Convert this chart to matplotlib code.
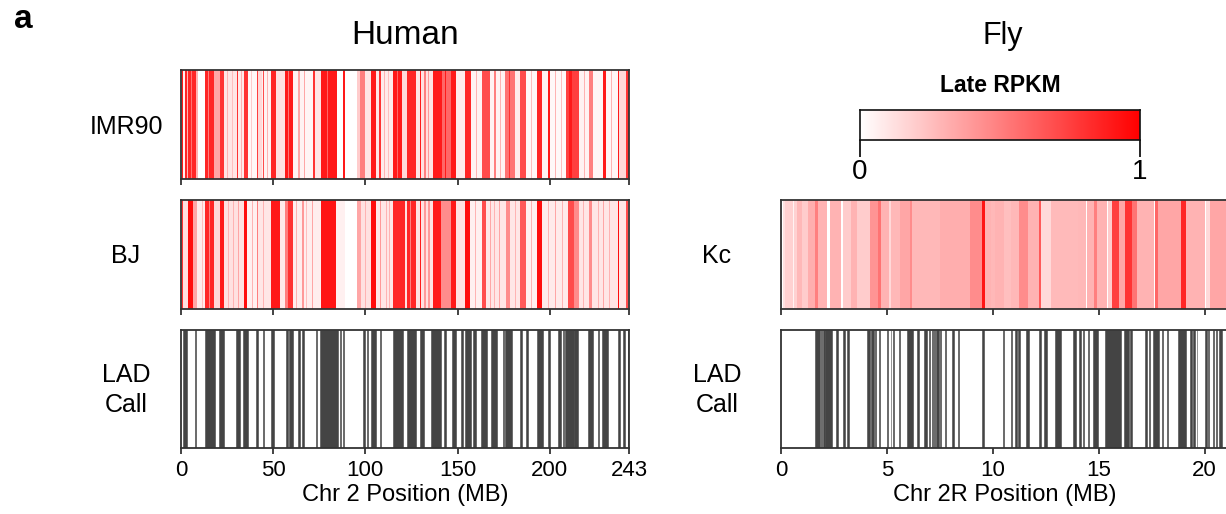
import matplotlib
matplotlib.use("Agg")
import matplotlib.pyplot as plt
from matplotlib.colors import LinearSegmentedColormap
import numpy as np

plt.rcParams['font.family'] = ['Liberation Sans', 'DejaVu Sans']

# ---------------- data ----------------
human_len = 243
human_ticks = [0, 50, 100, 150, 200, 243]
fly_len = 21.15
fly_ticks = [0, 5, 10, 15, 20]

imr90_background = 0.06
imr90_segments = [
    # light / white stretches with faint stripes
    (9.0, 13.0, 0.0), (23.5, 30.2, 0.1), (25.0, 25.6, 0.3), (27.5, 28.0, 0.25),
    (31.1, 34.1, 0.08), (32.5, 33.0, 0.3), (36.1, 41.0, 0.03), (38.0, 38.5, 0.2),
    (41.9, 44.0, 0.15), (45.2, 48.6, 0.05), (46.5, 47.0, 0.3), (51.8, 56.3, 0.12),
    (60.9, 63.5, 0.05), (64.5, 66.5, 0.05), (67.5, 71.7, 0.04), (72.6, 76.2, 0.1),
    (84.7, 87.9, 0.0), (89.2, 95.7, 0.0), (95.7, 97.0, 0.2), (99.7, 102.9, 0.1),
    (106.0, 107.5, 0.1), (108.5, 115.0, 0.08), (110.0, 110.6, 0.3), (112.5, 113.0, 0.25),
    (120.0, 122.6, 0.15), (127.6, 129.4, 0.1), (130.3, 136.7, 0.12), (134.0, 134.6, 0.4),
    (149.3, 153.8, 0.08), (157.4, 163.4, 0.05), (160.0, 160.5, 0.3), (167.4, 176.0, 0.05),
    (173.0, 173.5, 0.3), (180.9, 184.0, 0.08), (187.2, 193.2, 0.03), (190.0, 190.5, 0.25),
    (195.9, 199.0, 0.05), (200.2, 208.9, 0.03), (203.0, 203.5, 0.3), (206.0, 206.5, 0.25),
    (216.1, 221.5, 0.05), (218.5, 219.0, 0.3), (223.3, 228.7, 0.04), (230.6, 236.9, 0.04),
    (233.0, 233.6, 0.3), (237.8, 241.5, 0.15),
    # red stripes
    (0.4, 1.3, 0.9), (2.2, 3.1, 0.85), (3.1, 4.0, 0.3), (4.0, 7.9, 0.85), (5.5, 6.0, 0.55),
    (7.9, 9.0, 0.3), (13.0, 18.1, 0.85), (14.5, 15.0, 0.5), (18.1, 21.1, 0.35),
    (21.1, 23.5, 0.8), (30.2, 31.1, 0.8), (34.1, 36.1, 0.8), (41.0, 41.9, 0.75),
    (44.6, 45.2, 0.7), (48.6, 51.8, 0.85), (56.3, 60.9, 0.9), (58.0, 58.5, 0.55),
    (63.5, 64.5, 0.35), (66.5, 67.5, 0.35), (71.7, 72.6, 0.8), (76.2, 84.7, 0.9),
    (79.0, 79.6, 0.6), (87.9, 89.2, 0.9), (97.0, 99.7, 0.5), (102.9, 106.0, 0.9),
    (107.5, 108.5, 0.8), (115.0, 120.0, 0.9), (117.0, 117.6, 0.6), (122.6, 127.6, 0.85),
    (124.5, 125.0, 0.45), (129.4, 130.3, 0.9), (132.0, 133.0, 0.5), (136.7, 141.5, 0.9),
    (141.5, 146.5, 0.6), (143.0, 143.6, 0.9), (146.5, 149.3, 0.9), (153.8, 157.4, 0.85),
    (163.4, 167.4, 0.7), (170.0, 171.0, 0.5), (176.0, 180.9, 0.55), (178.0, 178.6, 0.8),
    (184.0, 187.2, 0.7), (193.2, 195.9, 0.85), (199.0, 200.2, 0.9), (208.9, 216.1, 0.75),
    (210.5, 212.0, 0.9), (221.5, 223.3, 0.5), (228.7, 230.6, 0.9), (236.9, 237.8, 0.9),
    (241.5, 242.8, 0.8),
]

bj_background = 0.12
bj_segments = [
    # pale texture
    (8.5, 13.0, 0.08), (9.5, 10.0, 0.3), (11.5, 12.0, 0.25), (18.0, 21.1, 0.15),
    (23.5, 34.1, 0.12), (25.5, 26.0, 0.3), (28.0, 28.5, 0.3), (31.0, 31.5, 0.35),
    (36.0, 41.0, 0.06), (38.5, 39.0, 0.3), (42.0, 48.8, 0.1), (44.5, 45.0, 0.3),
    (53.6, 56.3, 0.08), (60.9, 76.2, 0.07), (62.5, 63.0, 0.3), (68.0, 68.5, 0.25),
    (71.0, 71.6, 0.35), (73.5, 74.0, 0.3), (84.3, 88.8, 0.06), (97.5, 103.3, 0.12),
    (100.0, 100.5, 0.3), (106.0, 115.0, 0.1), (111.0, 111.5, 0.3), (113.0, 113.5, 0.3),
    (157.0, 163.4, 0.06), (159.5, 160.0, 0.3), (165.2, 184.0, 0.1), (167.5, 168.0, 0.35),
    (170.0, 170.5, 0.3), (172.5, 173.0, 0.35), (181.0, 181.5, 0.3), (187.2, 193.2, 0.06),
    (190.0, 190.5, 0.3), (196.0, 209.8, 0.08), (199.0, 199.6, 0.3), (203.0, 203.5, 0.35),
    (206.5, 207.0, 0.3), (216.0, 236.9, 0.1), (218.0, 218.5, 0.3), (226.0, 226.5, 0.3),
    (229.0, 229.5, 0.35), (232.0, 232.5, 0.3), (237.8, 243.0, 0.1), (239.5, 240.0, 0.3),
    # red stripes
    (0.4, 1.3, 0.8), (3.6, 6.7, 0.95), (6.7, 8.5, 0.35), (13.0, 18.0, 0.85), (15.0, 15.5, 0.5),
    (21.1, 23.5, 0.9), (34.1, 35.9, 0.95), (41.0, 41.9, 0.5), (48.8, 53.6, 0.9),
    (56.3, 60.9, 0.8), (56.3, 58.0, 0.5), (65.5, 66.5, 0.4), (76.2, 84.3, 0.92),
    (88.8, 95.7, 0.0), (95.7, 97.5, 0.35), (103.3, 106.0, 0.95), (107.8, 108.7, 0.4),
    (115.0, 121.3, 0.85), (122.6, 127.6, 0.85), (124.0, 124.5, 0.5), (129.4, 130.3, 0.9),
    (132.0, 133.0, 0.4), (134.0, 135.0, 0.4), (136.7, 141.2, 0.9), (141.2, 146.6, 0.45),
    (143.5, 144.0, 0.8), (146.6, 149.0, 0.9), (153.8, 156.9, 0.95), (163.4, 165.2, 0.7),
    (176.5, 178.5, 0.45), (184.0, 187.2, 0.65), (193.2, 195.9, 0.95), (209.8, 213.4, 0.7),
    (213.4, 216.0, 0.45), (221.5, 223.0, 0.45), (236.9, 237.8, 0.95), (241.5, 242.5, 0.7),
]

human_lad = [
    (1.3, 3.1), (7.6, 8.1), (13.0, 18.4), (20.6, 23.3), (29.8, 32.0), (33.6, 36.1),
    (40.6, 41.5), (44.6, 45.1), (48.8, 50.2), (56.9, 58.1), (58.7, 60.5), (63.6, 64.3),
    (65.5, 66.5), (73.3, 74.0), (75.3, 85.2), (86.0, 86.7), (87.6, 88.5), (98.8, 99.7),
    (100.8, 101.7), (102.9, 105.6), (107.8, 108.7), (115.0, 120.4), (122.6, 127.3),
    (129.4, 131.6), (135.4, 141.2), (142.4, 143.9), (147.1, 148.9), (152.0, 152.9),
    (153.8, 157.1), (158.3, 159.8), (162.5, 165.9), (167.9, 171.5), (174.6, 175.3),
    (176.0, 179.6), (184.0, 184.9), (187.2, 188.1), (193.2, 196.2), (199.3, 200.2),
    (204.4, 206.2), (207.1, 208.0), (208.5, 212.9), (213.4, 215.2), (220.6, 223.7),
    (226.0, 226.9), (228.2, 231.6), (236.9, 238.1), (240.0, 241.0), (242.3, 243.0),
]

kc_background = 0.28
kc_segments = [
    (0.0, 0.2, 0.12), (0.06, 0.09, 0.0), (0.2, 0.75, 0.18), (0.37, 0.4, 0.0), (0.57, 0.6, 0.05),
    (0.75, 1.0, 0.28), (1.0, 1.28, 0.2), (1.28, 1.6, 0.32), (1.6, 1.75, 0.5), (1.75, 2.15, 0.3),
    (2.15, 2.3, 0.0), (2.3, 2.84, 0.3), (2.84, 2.92, 0.0), (2.92, 4.2, 0.2), (3.3, 3.6, 0.3),
    (4.2, 4.56, 0.42), (4.6, 4.72, 0.55), (4.72, 5.1, 0.3), (5.1, 5.2, 0.15), (5.5, 5.53, 0.0),
    (5.6, 6.1, 0.35), (6.1, 6.2, 0.45), (6.4, 6.43, 0.05), (7.2, 7.23, 0.05), (7.5, 8.9, 0.32),
    (8.9, 9.5, 0.45), (9.5, 9.62, 0.92), (9.62, 9.9, 0.3), (9.9, 9.93, 0.0), (10.08, 10.55, 0.3),
    (10.55, 10.85, 0.25), (11.25, 11.64, 0.45), (11.64, 12.2, 0.3), (12.2, 12.28, 0.65),
    (12.28, 12.75, 0.15), (12.75, 14.0, 0.27), (14.4, 14.44, 0.0), (14.44, 14.77, 0.3),
    (14.77, 14.92, 0.5), (14.92, 15.4, 0.3), (15.4, 15.45, 0.0), (15.45, 15.63, 0.2),
    (15.63, 15.94, 0.75), (15.94, 16.25, 0.35), (16.25, 16.56, 0.8), (16.56, 16.8, 0.55),
    (16.8, 17.6, 0.3), (17.6, 17.64, 0.0), (17.67, 17.8, 0.6), (17.8, 18.9, 0.35),
    (18.9, 19.1, 0.85), (19.1, 20.0, 0.3), (20.0, 20.05, 0.0), (20.05, 20.25, 0.15),
    (20.25, 21.15, 0.35),
]

fly_lad = [
    (1.59, 1.83), (1.88, 1.94), (2.0, 2.06), (2.1, 2.42), (2.58, 2.69), (2.92, 3.03),
    (3.1, 3.23), (4.06, 4.2), (4.25, 4.4), (4.46, 4.5), (4.62, 4.66), (5.01, 5.05),
    (5.17, 5.21), (5.28, 5.32), (5.56, 5.6), (5.97, 6.25), (6.44, 6.53), (6.75, 6.9),
    (6.98, 7.02), (7.12, 7.16), (7.23, 7.27), (7.34, 7.45), (7.51, 7.55), (7.75, 7.79),
    (8.08, 8.16), (8.34, 8.38), (9.48, 9.6), (10.5, 10.54), (10.88, 10.92), (11.05, 11.14),
    (11.2, 11.3), (11.56, 11.72), (12.19, 12.27), (12.42, 12.58), (12.94, 13.2),
    (13.78, 13.91), (14.06, 14.14), (14.25, 14.29), (14.48, 14.52), (14.72, 14.95),
    (15.31, 16.05), (16.17, 16.41), (16.49, 16.56), (17.19, 17.27), (17.35, 17.42),
    (17.58, 17.85), (17.97, 18.05), (18.2, 18.28), (18.75, 19.14), (19.3, 19.38),
    (19.46, 19.53), (19.62, 19.66), (20.03, 20.11), (20.18, 20.22), (20.38, 20.42),
    (20.52, 20.58), (20.7, 20.83),
]

# ---------------- style ----------------
W, H = 1226, 514
fig = plt.figure(figsize=(W / 100, H / 100), dpi=100)
cmap = LinearSegmentedColormap.from_list("wr", ["#FFFFFF", "#FF0000"])
lad_color = "#444444"
edge = "#333333"


def px_axes(x0, y0, x1, y1):
    return fig.add_axes([x0 / W, 1 - y1 / H, (x1 - x0) / W, (y1 - y0) / H])


def style(ax, xmax, ticks, labels):
    ax.set_xlim(0, xmax)
    ax.set_ylim(0, 1)
    ax.set_yticks([])
    ax.set_xticks(ticks)
    if labels:
        ax.set_xticklabels([str(t) for t in ticks], fontsize=16)
    else:
        ax.set_xticklabels([])
    ax.tick_params(axis='x', direction='out', length=4, width=1.2, color='#222222', pad=5)
    for s in ax.spines.values():
        s.set_color(edge)
        s.set_linewidth(1.3)


def heat(ax, bg, segs, xmax):
    ax.axvspan(0, xmax, color=cmap(bg), lw=0)
    for s, e, v in segs:
        ax.axvspan(s, e, color=cmap(v), lw=0)


def lad(ax, segs):
    for s, e in segs:
        ax.axvspan(s, e, color=lad_color, lw=0.4)


HX0, HX1 = 181, 629
FX0 = 781
FX1 = FX0 + (HX1 - HX0)

ax1 = px_axes(HX0, 70, HX1, 179)
heat(ax1, imr90_background, imr90_segments, human_len)
style(ax1, human_len, human_ticks, False)

ax2 = px_axes(HX0, 200, HX1, 309)
heat(ax2, bj_background, bj_segments, human_len)
style(ax2, human_len, human_ticks, False)

ax3 = px_axes(HX0, 330, HX1, 448)
lad(ax3, human_lad)
style(ax3, human_len, human_ticks, True)
ax3.set_xlabel("Chr 2 Position (MB)", fontsize=17, labelpad=2)

ax4 = px_axes(FX0, 200, FX1, 309)
heat(ax4, kc_background, kc_segments, fly_len)
style(ax4, fly_len, fly_ticks, False)

ax5 = px_axes(FX0, 330, FX1, 448)
lad(ax5, fly_lad)
style(ax5, fly_len, fly_ticks, True)
ax5.set_xlabel("Chr 2R Position (MB)", fontsize=17, labelpad=2)

# colorbar
cax = px_axes(860, 110, 1140, 140)
grad = np.linspace(0, 1, 256).reshape(1, -1)
cax.imshow(grad, cmap=cmap, aspect='auto', extent=[0, 1, 0, 1])
cax.set_xlim(0, 1)
cax.set_yticks([])
cax.set_xticks([0, 1])
cax.set_xticklabels(["0", "1"], fontsize=20)
cax.tick_params(axis='x', direction='out', length=12, width=1.2, pad=2)
for s in cax.spines.values():
    s.set_color('#111111')
    s.set_linewidth(1.2)
fig.text(1000 / W, 1 - 85 / H, "Late RPKM", ha='center', va='center', fontsize=16.5, fontweight='bold')

# labels
fig.text(405 / W, 1 - 36 / H, "Human", ha='center', va='center', fontsize=24)
fig.text(1003 / W, 1 - 36 / H, "Fly", ha='center', va='center', fontsize=22)
fig.text(23 / W, 1 - 20 / H, "a", ha='center', va='center', fontsize=24, fontweight='bold')
fig.text(126 / W, 1 - 127 / H, "IMR90", ha='center', va='center', fontsize=18)
fig.text(126 / W, 1 - 256 / H, "BJ", ha='center', va='center', fontsize=18)
fig.text(126 / W, 1 - 390 / H, "LAD\nCall", ha='center', va='center', fontsize=18, linespacing=1.35)
fig.text(717 / W, 1 - 256 / H, "Kc", ha='center', va='center', fontsize=18)
fig.text(717 / W, 1 - 390 / H, "LAD\nCall", ha='center', va='center', fontsize=18, linespacing=1.35)

fig.savefig("out.png", dpi=100)
